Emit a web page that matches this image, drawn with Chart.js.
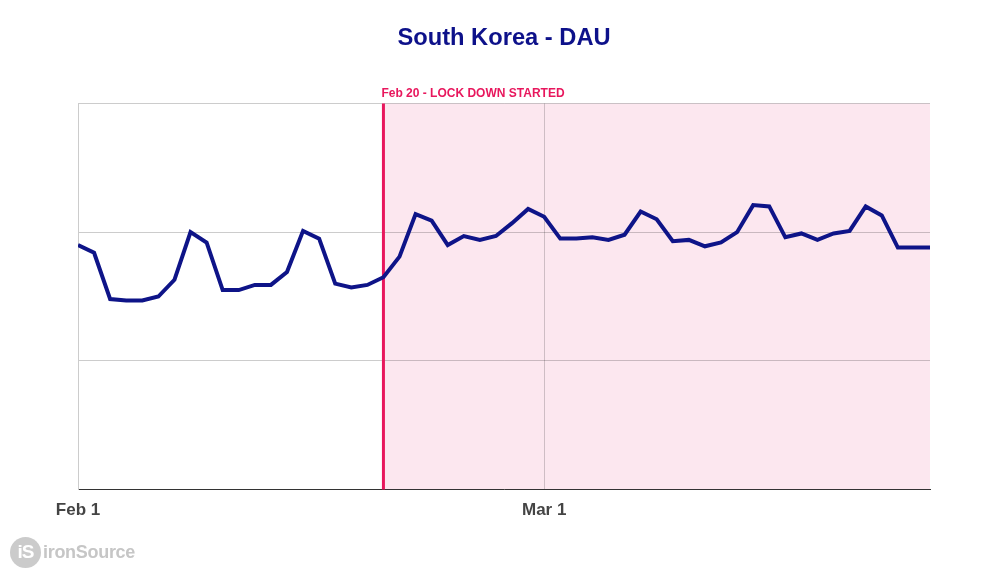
<!DOCTYPE html>
<html>
<head>
<meta charset="utf-8">
<script src="https://cdn.jsdelivr.net/npm/chart.js@4.4.1/dist/chart.umd.min.js"></script>
<style>
  html, body { margin: 0; padding: 0; background: #fff; }
  #wrap { position: relative; width: 1005px; height: 578px; }
  #logo { position: absolute; left: 10px; top: 536px; height: 32px; display: flex; align-items: center; font-family: "Liberation Sans", Arial, sans-serif; }
  #logo .c { width: 31px; height: 31px; border-radius: 50%; background: #cbcbcb; color: #fff; font-weight: bold; font-size: 19px; display: flex; align-items: center; justify-content: center; letter-spacing: -1px; }
  #logo .t { color: #c6c6c6; font-weight: bold; font-size: 18px; margin-left: 2px; letter-spacing: -0.3px; }
</style>
</head>
<body>
<div id="wrap">
  <canvas id="c" width="1005" height="578"></canvas>
  <div id="logo"><div class="c">iS</div><div class="t">ironSource</div></div>
</div>
<script>
// Day index 0 = Feb 1, 2020
const dayLabels = ["Feb 1", "Mar 1"];
const tickDays = [0, 29];
const lockdownDay = 19; // Feb 20
const lockdownLabel = "Feb 20 - LOCK DOWN STARTED";
const lastDay = 53; // Mar 25
const dauValues = [
  1.90, 1.84, 1.48, 1.47, 1.47, 1.50, 1.63, 2.00, 1.92, 1.55,
  1.55, 1.59, 1.59, 1.69, 2.01, 1.95, 1.60, 1.57, 1.59,
  1.65, 1.81, 2.14, 2.09, 1.90, 1.97, 1.94, 1.97, 2.07, 2.18,
  2.12, 1.95, 1.95, 1.96, 1.94, 1.98, 2.16, 2.10, 1.93, 1.94,
  1.89, 1.92, 2.00, 2.21, 2.20, 1.96, 1.99, 1.94, 1.99, 2.01,
  2.20, 2.13, 1.88, 1.88, 1.88
];

const points = dauValues.map((v, i) => ({ x: i, y: v }));

const lockdownPlugin = {
  id: 'lockdown',
  beforeDraw(chart) {
    const { ctx, chartArea, scales } = chart;
    const x0 = scales.x.getPixelForValue(lockdownDay);
    ctx.save();
    ctx.fillStyle = '#fce7ef';
    ctx.fillRect(x0, chartArea.top, chartArea.right - x0, chartArea.bottom - chartArea.top);
    ctx.restore();
  },
  beforeDatasetsDraw(chart) {
    const { ctx, chartArea, scales } = chart;
    const x0 = scales.x.getPixelForValue(lockdownDay);
    ctx.save();
    ctx.strokeStyle = '#e8175d';
    ctx.lineWidth = 3;
    ctx.beginPath();
    ctx.moveTo(x0, chartArea.top);
    ctx.lineTo(x0, chartArea.bottom);
    ctx.stroke();
    ctx.fillStyle = '#e8175d';
    ctx.font = 'bold 12px "Liberation Sans", Arial, sans-serif';
    ctx.textAlign = 'left';
    ctx.textBaseline = 'alphabetic';
    ctx.fillText(lockdownLabel, x0 - 2, chartArea.top - 6);
    ctx.restore();
  }
};

new Chart(document.getElementById('c'), {
  type: 'line',
  data: {
    datasets: [{
      data: points,
      borderColor: '#0e1488',
      borderWidth: 4,
      pointRadius: 0,
      tension: 0,
      fill: false
    }]
  },
  options: {
    responsive: false,
    animation: false,
    layout: { padding: { left: 78, right: 75, top: 0, bottom: 46 } },
    plugins: {
      legend: { display: false },
      tooltip: { enabled: false },
      title: {
        display: true,
        text: 'South Korea - DAU',
        color: '#0d118a',
        font: { family: '"Liberation Sans", Arial, sans-serif', size: 23.7, weight: 'bold' },
        padding: { top: 24, bottom: 51 }
      }
    },
    scales: {
      x: {
        type: 'linear',
        min: 0,
        max: lastDay,
        afterBuildTicks(scale) { scale.ticks = tickDays.map(v => ({ value: v })); },
        ticks: {
          callback(v) { const i = tickDays.indexOf(v); return i >= 0 ? dayLabels[i] : ''; },
          color: '#444',
          font: { family: '"Liberation Sans", Arial, sans-serif', size: 17, weight: 'bold' },
          padding: 11,
          maxRotation: 0,
          autoSkip: false
        },
        grid: { color: 'rgba(0,0,0,0.18)', drawTicks: false, lineWidth: 1 },
        border: { display: true, color: '#333', width: 1 }
      },
      y: {
        min: 0,
        max: 3,
        ticks: { display: false, stepSize: 1 },
        grid: { color: 'rgba(0,0,0,0.2)', drawTicks: false },
        border: { display: true, color: '#ccc', width: 1 }
      }
    }
  },
  plugins: [lockdownPlugin]
});
</script>
</body>
</html>
